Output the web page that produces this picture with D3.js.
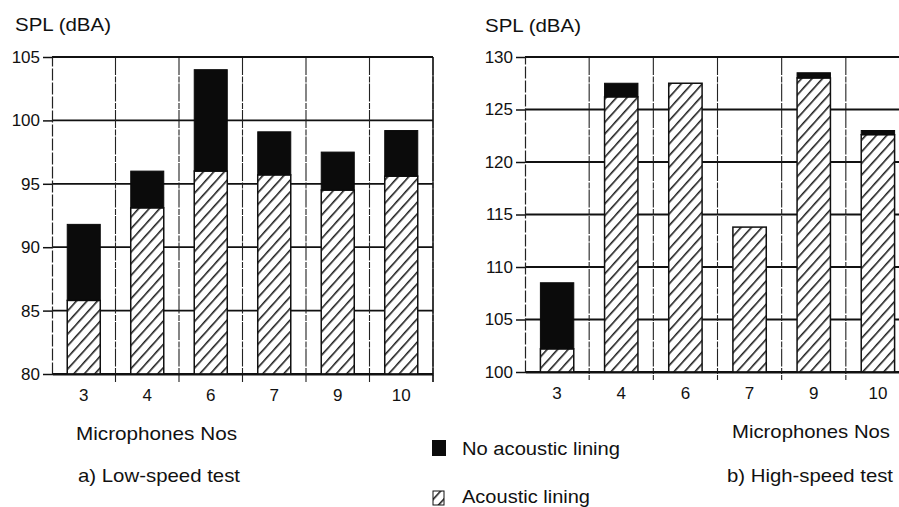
<!DOCTYPE html>
<html>
<head>
<meta charset="utf-8">
<script src="https://cdn.jsdelivr.net/npm/d3@7"></script>
<style>
  body { margin: 0; background: #fff; }
  text { font-family: "Liberation Sans", Arial, sans-serif; fill: #111; }
</style>
</head>
<body>
<div class="chart"></div>
<script>
// microphone numbers on the x axis
const mics = ["3", "4", "6", "7", "9", "10"];

// a) low-speed test, SPL in dBA
const lowLined = [85.8, 93.1, 96.0, 95.7, 94.5, 95.6];
const lowUnlined = [91.8, 96.0, 104.0, 99.1, 97.5, 99.2];
const lowTicks = [80, 85, 90, 95, 100, 105];

// b) high-speed test, SPL in dBA
const highLined = [102.2, 126.2, 127.5, 113.8, 128.0, 122.6];
const highUnlined = [108.5, 127.5, 127.5, 113.8, 128.5, 123.0];
const highTicks = [100, 105, 110, 115, 120, 125, 130];

const W = 899, H = 507;

const svg = d3
  .select(".chart")
  .append("svg")
  .attr("width", W)
  .attr("height", H);

svg.append("rect").attr("width", W).attr("height", H).attr("fill", "#fff");

// hatch pattern for the acoustic lining bars
const defs = svg.append("defs");
const hatch = defs
  .append("pattern")
  .attr("id", "hatch")
  .attr("patternUnits", "userSpaceOnUse")
  .attr("width", 7.8)
  .attr("height", 7.8)
  .attr("patternTransform", "rotate(42)");
hatch.append("rect").attr("width", 7.8).attr("height", 7.8).attr("fill", "#fff");
hatch
  .append("line")
  .attr("x1", 0.8).attr("y1", 0)
  .attr("x2", 0.8).attr("y2", 7.8)
  .attr("stroke", "#111")
  .attr("stroke-width", 1.5);

function panel(p) {
  const g = svg.append("g");

  const x = d3.scaleBand().domain(mics).range([p.left, p.right]).padding(0);
  const y = d3.scaleLinear().domain(p.domain).range([p.bottom, p.top]);
  const barW = x.bandwidth() * 0.52;

  // horizontal grid lines (behind the bars)
  g.append("g")
    .selectAll("line")
    .data(p.ticks)
    .enter()
    .append("line")
    .attr("x1", p.left)
    .attr("x2", p.right)
    .attr("y1", (d) => y(d))
    .attr("y2", (d) => y(d))
    .attr("stroke", "#111")
    .attr("stroke-width", 1.8);

  // vertical grid lines between bands, running down as ticks
  const edges = mics.slice(1).map((m) => x(m)).concat([p.right]);
  g.append("g")
    .selectAll("line")
    .data(edges)
    .enter()
    .append("line")
    .attr("x1", (d) => d)
    .attr("x2", (d) => d)
    .attr("y1", p.top)
    .attr("y2", p.bottom + 8)
    .attr("stroke", "#222")
    .attr("stroke-width", 1.1)
    .attr("stroke-dasharray", "18,1.5,6,1");

  // hatched part: acoustic lining
  g.append("g")
    .selectAll("rect")
    .data(mics)
    .enter()
    .append("rect")
    .attr("x", (d) => x(d) + x.bandwidth() / 2 - barW / 2)
    .attr("width", barW)
    .attr("y", (d, i) => y(p.lined[i]))
    .attr("height", (d, i) => y(p.domain[0]) - y(p.lined[i]))
    .attr("fill", "url(#hatch)")
    .attr("stroke", "#111")
    .attr("stroke-width", 1.5);

  // black part: no acoustic lining
  g.append("g")
    .selectAll("rect")
    .data(mics.filter((d, i) => p.unlined[i] > p.lined[i]))
    .enter()
    .append("rect")
    .attr("x", (d) => x(d) + x.bandwidth() / 2 - barW / 2)
    .attr("width", barW)
    .attr("y", (d) => y(p.unlined[mics.indexOf(d)]))
    .attr("height", (d) => y(p.lined[mics.indexOf(d)]) - y(p.unlined[mics.indexOf(d)]))
    .attr("fill", "#0b0b0b")
    .attr("stroke", "#0b0b0b")
    .attr("stroke-width", 1);

  // frame: top line
  g.append("line")
    .attr("x1", p.left).attr("x2", p.right)
    .attr("y1", p.top).attr("y2", p.top)
    .attr("stroke", "#111").attr("stroke-width", 2);

  // y axis
  const yAxis = g
    .append("g")
    .attr("transform", `translate(${p.left}, 0)`)
    .call(d3.axisLeft(y).tickValues(p.ticks).tickSize(9).tickSizeOuter(0).tickPadding(3));
  yAxis.select(".domain").attr("stroke", "#222").attr("stroke-width", 1.2)
    .attr("stroke-dasharray", "12,2");
  yAxis.selectAll(".tick line").attr("stroke", "#111").attr("stroke-width", 1.5);
  yAxis
    .selectAll(".tick text")
    .attr("fill", "#111")
    .style("font-size", "17px")
    .style("font-family", '"Liberation Sans", Arial, sans-serif');

  // x axis
  const xAxis = g
    .append("g")
    .attr("transform", `translate(0, ${p.bottom})`)
    .call(d3.axisBottom(x).tickSize(0).tickPadding(15));
  xAxis.select(".domain").attr("stroke", "#111").attr("stroke-width", 2);
  xAxis
    .selectAll(".tick text")
    .attr("fill", "#111")
    .style("font-size", "17px")
    .style("font-family", '"Liberation Sans", Arial, sans-serif');

  // labels
  g.append("text")
    .attr("x", p.spl[0])
    .attr("y", p.spl[1])
    .style("font-size", "18px")
    .attr("textLength", 96)
    .attr("lengthAdjust", "spacingAndGlyphs")
    .text("SPL (dBA)");

  g.append("text")
    .attr("x", p.xlab[0])
    .attr("y", p.xlab[1])
    .style("font-size", "19px")
    .attr("textLength", p.xlab[2])
    .attr("lengthAdjust", "spacingAndGlyphs")
    .text("Microphones Nos");

  g.append("text")
    .attr("x", p.cap[0])
    .attr("y", p.cap[1])
    .style("font-size", "19px")
    .attr("textLength", p.cap[2])
    .attr("lengthAdjust", "spacingAndGlyphs")
    .text(p.caption);
}

panel({
  left: 52, right: 433, top: 57, bottom: 374,
  domain: [80, 105], ticks: lowTicks,
  lined: lowLined, unlined: lowUnlined,
  spl: [15, 31], xlab: [76, 440, 161], cap: [78, 482, 162],
  caption: "a) Low-speed test",
});

// right panel runs past the page edge, as in the scan
panel({
  left: 525, right: 910, top: 57, bottom: 372,
  domain: [100, 130], ticks: highTicks,
  lined: highLined, unlined: highUnlined,
  spl: [485, 32], xlab: [732, 438, 158], cap: [727, 482, 166],
  caption: "b) High-speed test",
});

// right frame line of the left panel
svg.append("line")
  .attr("x1", 433).attr("x2", 433).attr("y1", 57).attr("y2", 382)
  .attr("stroke", "#111").attr("stroke-width", 1.3);

// legend
const legend = svg.append("g");
legend.append("rect")
  .attr("x", 432).attr("y", 440).attr("width", 14).attr("height", 16)
  .attr("fill", "#0b0b0b");
legend.append("text")
  .attr("x", 462).attr("y", 455)
  .style("font-size", "18px")
  .attr("textLength", 158)
  .attr("lengthAdjust", "spacingAndGlyphs")
  .text("No acoustic lining");
legend.append("rect")
  .attr("x", 433).attr("y", 491).attr("width", 11).attr("height", 14)
  .attr("fill", "url(#hatch)")
  .attr("stroke", "#111").attr("stroke-width", 1);
legend.append("text")
  .attr("x", 462).attr("y", 503)
  .style("font-size", "18px")
  .attr("textLength", 128)
  .attr("lengthAdjust", "spacingAndGlyphs")
  .text("Acoustic lining");
</script>
</body>
</html>
